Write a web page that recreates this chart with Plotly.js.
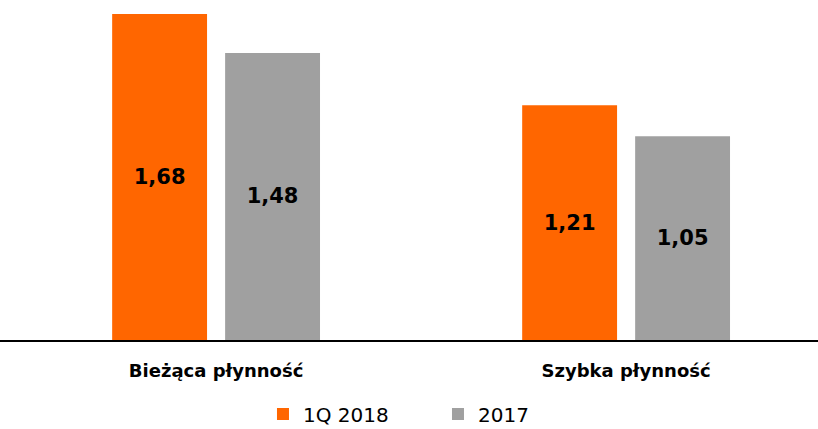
<!DOCTYPE html>
<html><head><meta charset="utf-8">
<script src="https://cdn.plot.ly/plotly-3.0.1.min.js"></script>
<style>html,body{margin:0;padding:0;background:#fff}</style>
</head><body>
<div id="chart" style="width:818px;height:429px"></div>
<script>
const categories = ["Bieżąca płynność", "Szybka płynność"];
const series2018 = [1.68, 1.21];
const series2017 = [1.48, 1.05];
const seriesNames = ["1Q 2018", "2017"];

const font = "Tahoma, Verdana, 'DejaVu Sans', sans-serif";
const traces = [
  {type:'bar', name:seriesNames[0], x:categories, y:series2018, marker:{color:'#FF6600'},
   texttemplate:'<b>%{y:.2f}</b>', textposition:'inside', insidetextanchor:'middle', textangle:0,
   textfont:{family:font, size:21, color:'#000'}},
  {type:'bar', name:seriesNames[1], x:categories, y:series2017, marker:{color:'#A0A0A0'},
   texttemplate:'<b>%{y:.2f}</b>', textposition:'inside', insidetextanchor:'middle', textangle:0,
   textfont:{family:font, size:21, color:'#000'}}
];
const layout = {
  width:818, height:429,
  margin:{l:0, r:0, t:0, b:89, autoexpand:false},
  paper_bgcolor:'#fff', plot_bgcolor:'#fff',
  separators:', ',
  barmode:'group', bargap:0.449, bargroupgap:0.16,
  font:{family:font, color:'#000'},
  xaxis:{type:'category', range:[-0.527, 1.468], showline:true, linecolor:'#000', linewidth:1.5,
    ticks:'', ticklabelstandoff:14, tickfont:{family:font, size:18, color:'#000', weight:'bold'}, showgrid:false},
  yaxis:{range:[0, 1.7526], visible:false, showgrid:false, zeroline:false},
  showlegend:true,
  legend:{orientation:'h', x:0.3215, xanchor:'left', yref:'container', y:0.035, yanchor:'middle',
    font:{family:font, size:20, color:'#000'}, itemwidth:30, entrywidth:130, tracegroupgap:0},
};
Plotly.newPlot('chart', traces, layout, {displayModeBar:false});
</script>
</body></html>
